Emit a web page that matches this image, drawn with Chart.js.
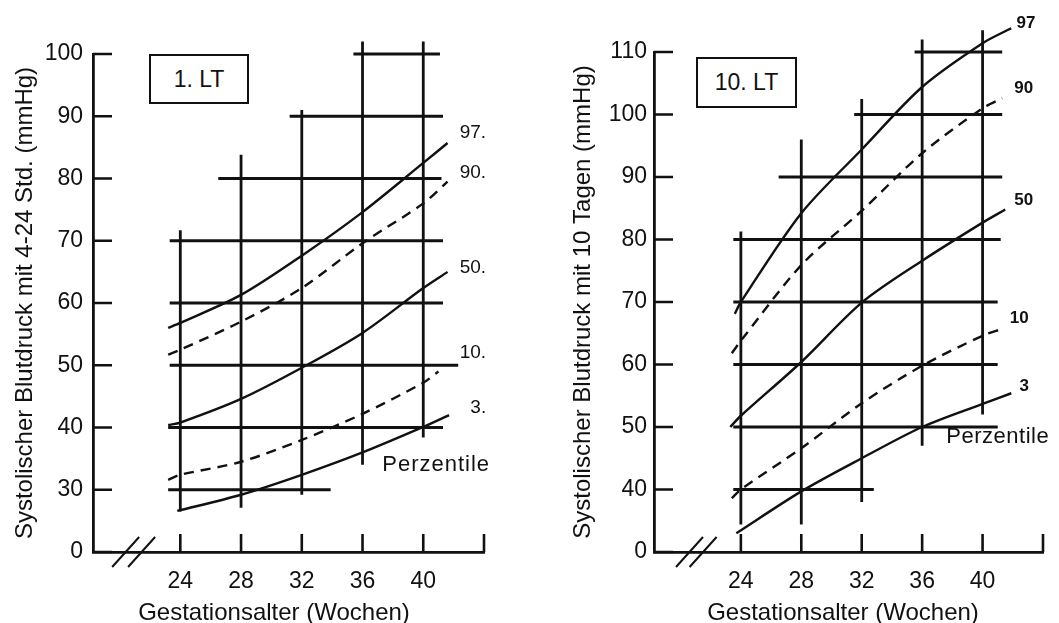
<!DOCTYPE html>
<html>
<head>
<meta charset="utf-8">
<script src="https://cdn.jsdelivr.net/npm/chart.js@4.4.0/dist/chart.umd.min.js"></script>
<style>
html, body { margin: 0; padding: 0; background: #fff; }
#wrap { position: relative; width: 1059px; height: 623px; overflow: hidden; font-family: "Liberation Sans", Arial, sans-serif; color: #111; }
.panel { position: absolute; top: 0; height: 623px; }
.box { position: absolute; box-sizing: border-box; border: 2px solid #111; font-size: 23px; display: flex; align-items: center; justify-content: center; background: #fff; }
.xt { position: absolute; font-size: 24px; line-height: 28px; white-space: nowrap; transform: translateX(-50%); }
</style>
</head>
<body>
<div id="wrap">
  <div class="panel" style="left:0;width:530px"><canvas id="c1"></canvas></div>
  <div class="panel" style="left:530px;width:529px"><canvas id="c2"></canvas></div>
  <div class="box" style="left:149px;top:54px;width:100px;height:50px">1. LT</div>
  <div class="box" style="left:696px;top:57px;width:101px;height:51px">10. LT</div>
  <div class="xt" style="left:274px;top:598px">Gestationsalter (Wochen)</div>
  <div class="xt" style="left:843px;top:598px">Gestationsalter (Wochen)</div>
</div>
<script>
const INK = '#111';
const FONT = '"Liberation Sans", Arial, sans-serif';

// axes
const xTicks = [24, 28, 32, 36, 40, 44];
const xTickLabels = ['24', '28', '32', '36', '40', ''];
const yTicksL = [20, 30, 40, 50, 60, 70, 80, 90, 100];
const yTickLabelsL = ['0', '30', '40', '50', '60', '70', '80', '90', '100'];
const yTicksR = [30, 40, 50, 60, 70, 80, 90, 100, 110];
const yTickLabelsR = ['0', '40', '50', '60', '70', '80', '90', '100', '110'];

// 1. LT percentile curves (weeks, mmHg)
const weeks97L = [23.2, 24, 28, 32, 36, 40, 41.6];
const p97L = [56.0, 56.8, 61.3, 67.6, 74.6, 82.5, 85.7];
const weeks90L = [23.2, 24, 28, 32, 36, 40, 41.6];
const p90L = [51.7, 52.5, 57.0, 62.4, 69.6, 76.0, 79.5];
const weeks50L = [23.2, 24, 28, 32, 36, 40, 41.6];
const p50L = [40.4, 40.8, 44.6, 49.6, 55.2, 62.4, 65.0];
const weeks10L = [23.2, 24, 28, 32, 36, 40, 41.0];
const p10L = [31.6, 32.4, 34.5, 38.0, 42.2, 47.2, 49.0];
const weeks3L = [23.8, 28, 32, 36, 40, 41.7];
const p3L = [26.6, 29.2, 32.4, 36.0, 40.1, 42.0];

// 10. LT percentile curves
const weeks97R = [23.6, 24, 28, 32, 36, 40, 41.9];
const p97R = [68.1, 70.0, 84.2, 94.4, 104.4, 111.4, 113.8];
const weeks90R = [23.4, 24, 28, 32, 36, 40, 41.3];
const p90R = [61.8, 63.8, 75.9, 84.6, 93.8, 101.0, 102.6];
const weeks50R = [23.3, 24, 28, 32, 36, 40, 41.5];
const p50R = [50.0, 51.8, 60.4, 69.9, 76.6, 82.7, 84.8];
const weeks10R = [23.4, 24, 28, 32, 36, 40, 41.3];
const p10R = [38.6, 40.0, 46.6, 53.8, 59.8, 64.6, 65.7];
const weeks3R = [23.7, 28, 32, 36, 40, 41.9];
const p3R = [33.0, 39.7, 45.0, 50.0, 53.7, 55.4];

// stepped grid: [mmHg, from week, to week] and [week, from mmHg, to mmHg]
const gridHL = [[100, 35.4, 41.1], [90, 31.2, 41.3], [80, 26.5, 41.2], [70, 23.3, 41.3],
                [60, 23.3, 41.3], [50, 23.3, 42.3], [40, 23.2, 41.3], [30, 23.2, 33.9]];
const gridVL = [[24, 26.5, 71.7], [28, 27.1, 83.8], [32, 29.2, 91.0], [36, 34.0, 102.0], [40, 38.4, 102.0]];
const gridHR = [[110, 35.5, 41.3], [100, 31.5, 41.3], [90, 26.5, 41.3], [80, 23.5, 41.2],
                [70, 23.5, 41.0], [60, 23.5, 41.0], [50, 23.5, 41.0], [40, 23.5, 32.8]];
const gridVR = [[24, 34.4, 81.3], [28, 34.4, 96.0], [32, 38.0, 102.5], [36, 47.0, 112.0], [40, 52.0, 113.5]];

const pctNamesL = ['97.', '90.', '50.', '10.', '3.', 'Perzentile'];
const pctNamesR = ['97', '90', '50', '10', '3', 'Perzentile'];

function pts(xs, ys) { return xs.map((w, i) => ({ x: w, y: ys[i] })); }

function curve(xs, ys, dashed) {
  return {
    data: pts(xs, ys), borderColor: INK, borderWidth: 2.4,
    borderDash: dashed ? [10, 7] : [], tension: 0.3,
    pointRadius: 0, clip: false
  };
}

function gridSets(h, v) {
  const out = [];
  h.forEach(([yv, a, b]) => out.push([{ x: a, y: yv }, { x: b, y: yv }]));
  v.forEach(([xv, a, b]) => out.push([{ x: xv, y: a }, { x: xv, y: b }]));
  return out.map(d => ({ data: d, borderColor: INK, borderWidth: 2.8, pointRadius: 0, tension: 0, clip: false }));
}

// inward ticks, axis break and curve labels
const decor = {
  id: 'decor',
  afterDraw(chart, args, o) {
    const { ctx, chartArea: ca, scales: { x, y } } = chart;
    ctx.save();
    ctx.strokeStyle = INK;
    ctx.lineWidth = 2.6;
    ctx.beginPath();
    x.ticks.forEach(t => { const px = x.getPixelForValue(t.value); ctx.moveTo(px, ca.bottom); ctx.lineTo(px, ca.bottom - 18); });
    y.ticks.forEach(t => { const py = y.getPixelForValue(t.value); ctx.moveTo(ca.left, py); ctx.lineTo(ca.left + 19, py); });
    ctx.stroke();
    ctx.lineWidth = 2;
    ctx.beginPath();
    o.breaks.forEach(v => {
      const px = x.getPixelForValue(v);
      ctx.moveTo(px - 13.5, ca.bottom + 15); ctx.lineTo(px + 13.5, ca.bottom - 15);
    });
    ctx.stroke();
    ctx.fillStyle = INK;
    ctx.textBaseline = 'middle';
    ctx.textAlign = 'left';
    o.names.forEach((txt, i) => {
      const [wx, wy] = o.at[i];
      const last = i === o.names.length - 1;
      ctx.font = last ? o.bigFont : o.font;
      ctx.letterSpacing = last ? o.spacing : '0px';
      ctx.fillText(txt, x.getPixelForValue(wx), y.getPixelForValue(wy));
    });
    ctx.restore();
  }
};

function makeChart(id, c) {
  return new Chart(document.getElementById(id), {
    type: 'line',
    data: { datasets: gridSets(c.gridH, c.gridV).concat(c.curves) },
    plugins: [decor],
    options: {
      responsive: true, maintainAspectRatio: false, animation: false,
      layout: { padding: { top: c.top, right: c.right, left: 0, bottom: 0 } },
      plugins: {
        legend: { display: false }, tooltip: { enabled: false },
        decor: { breaks: c.breaks, names: c.names, at: c.at, font: c.font, bigFont: c.bigFont, spacing: c.spacing }
      },
      scales: {
        x: {
          type: 'linear', min: 18.25, max: 44,
          afterBuildTicks: s => { s.ticks = xTicks.map(v => ({ value: v })); },
          afterFit: s => { s.height = 71; },
          grid: { display: false, drawTicks: false },
          border: { display: true, color: INK, width: 2.8 },
          ticks: { callback: (v, i) => xTickLabels[i], color: INK, font: { family: FONT, size: 23 }, padding: 16, maxRotation: 0, autoSkip: false }
        },
        y: {
          type: 'linear', min: c.yTicks[0], max: c.yTicks[c.yTicks.length - 1],
          afterBuildTicks: s => { s.ticks = c.yTicks.map(v => ({ value: v })); },
          afterFit: s => { s.width = c.yWidth; },
          grid: { display: false, drawTicks: false },
          border: { display: true, color: INK, width: 2.8 },
          ticks: { callback: (v, i) => c.yLabels[i], color: INK, font: { family: FONT, size: 23 }, padding: c.yPad, autoSkip: false },
          title: { display: true, text: c.yTitle, color: INK, font: { family: FONT, size: 24 }, padding: { top: c.titlePad, bottom: 0 } }
        }
      }
    }
  });
}

makeChart('c1', {
  top: 54, right: 46, yWidth: 93, yPad: 10, titlePad: 11,
  yTicks: yTicksL, yLabels: yTickLabelsL,
  yTitle: 'Systolischer Blutdruck mit 4-24 Std. (mmHg)',
  gridH: gridHL, gridV: gridVL,
  curves: [curve(weeks97L, p97L, false), curve(weeks90L, p90L, true), curve(weeks50L, p50L, false),
           curve(weeks10L, p10L, true), curve(weeks3L, p3L, false)],
  breaks: [20.4, 21.45],
  names: pctNamesL,
  at: [[42.4, 87.3], [42.4, 81.0], [42.4, 65.6], [42.4, 52.0], [43.1, 43.1], [37.3, 34.0]],
  font: '19px ' + FONT, bigFont: '22px ' + FONT, spacing: '1px'
});

makeChart('c2', {
  top: 52, right: 15.5, yWidth: 124, yPad: 7, titlePad: 39,
  yTicks: yTicksR, yLabels: yTickLabelsR,
  yTitle: 'Systolischer Blutdruck mit 10 Tagen (mmHg)',
  gridH: gridHR, gridV: gridVR,
  curves: [curve(weeks97R, p97R, false), curve(weeks90R, p90R, true), curve(weeks50R, p50R, false),
           curve(weeks10R, p10R, true), curve(weeks3R, p3R, false)],
  breaks: [20.6, 21.5],
  names: pctNamesR,
  at: [[42.25, 114.6], [42.1, 104.2], [42.1, 86.3], [41.8, 67.4], [42.45, 56.5], [37.6, 48.4]],
  font: 'bold 17px ' + FONT, bigFont: '22px ' + FONT, spacing: '0.5px'
});
</script>
</body>
</html>
